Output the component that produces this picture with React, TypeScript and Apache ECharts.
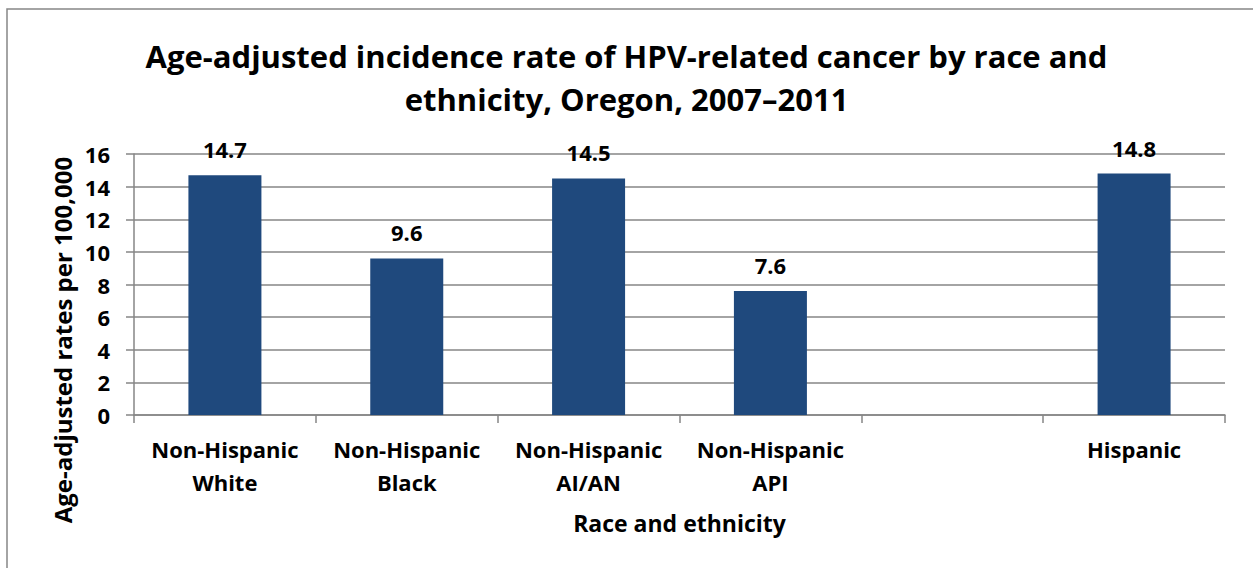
import React, { useEffect, useRef } from "react";
import * as echarts from "echarts";

const categories = [
  "Non-Hispanic\nWhite",
  "Non-Hispanic\nBlack",
  "Non-Hispanic\nAI/AN",
  "Non-Hispanic\nAPI",
  "",
  "Hispanic",
];
const rates: (number | null)[] = [14.7, 9.6, 14.5, 7.6, null, 14.8];
const yTicks = { min: 0, max: 16, interval: 2 };

const FONT = "'Open Sans', 'Noto Sans', sans-serif";
const GRAY = "#868686";

export default function App() {
  const ref = useRef<HTMLDivElement>(null);
  useEffect(() => {
    const chart = echarts.init(ref.current!, null, { renderer: "svg" });
    chart.setOption({
      animation: false,
      backgroundColor: "#ffffff",
      textStyle: { fontFamily: FONT },
      title: {
        text: "Age-adjusted incidence rate of HPV-related cancer by race and\nethnicity, Oregon, 2007–2011",
        left: "center",
        top: 29,
        textStyle: {
          fontFamily: FONT,
          fontSize: 31,
          fontWeight: "bold",
          color: "#000",
          lineHeight: 43,
        },
      },
      grid: { left: 134, right: 28, top: 154, bottom: 153, containLabel: false },
      xAxis: {
        type: "category",
        data: categories,
        axisLine: { show: true, lineStyle: { color: GRAY, width: 1.5 } },
        axisTick: { show: true, length: 8, lineStyle: { color: GRAY, width: 1.5 } },
        axisLabel: {
          interval: 0,
          margin: 17,
          fontFamily: FONT,
          fontSize: 22,
          fontWeight: "bold",
          color: "#000",
          lineHeight: 33,
        },
        name: "Race and ethnicity",
        nameLocation: "middle",
        nameGap: 96,
        nameTextStyle: { fontFamily: FONT, fontSize: 23, fontWeight: "bold", color: "#000" },
      },
      yAxis: {
        type: "value",
        min: yTicks.min,
        max: yTicks.max,
        interval: yTicks.interval,
        axisLine: { show: true, lineStyle: { color: GRAY, width: 1.5 } },
        axisTick: { show: true, length: 8, lineStyle: { color: GRAY, width: 1.5 } },
        splitLine: { show: true, lineStyle: { color: GRAY, width: 1.5 } },
        axisLabel: {
          margin: 24,
          fontFamily: FONT,
          fontSize: 22,
          fontWeight: "bold",
          color: "#000",
        },
      },
      series: [
        {
          type: "bar",
          data: rates,
          barWidth: 73,
          itemStyle: { color: "#1F497D" },
          label: {
            show: true,
            position: "top",
            distance: 15,
            fontFamily: FONT,
            fontSize: 22,
            fontWeight: "bold",
            color: "#000",
          },
        },
      ],
      graphic: [
        {
          type: "rect",
          shape: { x: 7, y: 9, width: 1300, height: 700 },
          style: { fill: "none", stroke: GRAY, lineWidth: 1.5 },
          silent: true,
        },
        {
          type: "text",
          x: 62,
          y: 340,
          rotation: Math.PI / 2,
          style: {
            text: "Age-adjusted rates per 100,000",
            fontFamily: FONT,
            fontSize: 24,
            fontWeight: "bold",
            fill: "#000",
            align: "center",
            verticalAlign: "middle",
          },
        },
      ],
    });
    return () => chart.dispose();
  }, []);
  return (
    <div
      ref={ref}
      style={{ position: "absolute", left: 0, top: 0, width: 1253, height: 568 }}
    />
  );
}
